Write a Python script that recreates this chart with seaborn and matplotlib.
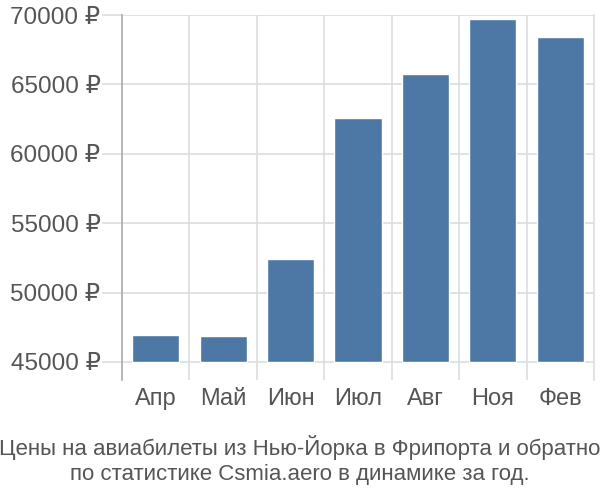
import matplotlib
matplotlib.use("Agg")
import matplotlib.pyplot as plt
import seaborn as sns
import pandas as pd

months = ["Апр", "Май", "Июн", "Июл", "Авг", "Ноя", "Фев"]
prices = [46950, 46850, 52450, 62600, 65780, 69680, 68450]
yticks = [45000, 50000, 55000, 60000, 65000, 70000]
ytick_labels = ["45000 ₽", "50000 ₽", "55000 ₽", "60000 ₽", "65000 ₽", "70000 ₽"]
title = "Цены на авиабилеты из Нью-Йорка в Фрипорта и обратно\nпо статистике Csmia.aero в динамике за год."

BASE = 45000

sns.set_theme(style="white")
plt.rcParams["font.family"] = ["Liberation Sans", "DejaVu Sans"]

df = pd.DataFrame({"month": months, "height": [p - BASE for p in prices]})

fig = plt.figure(figsize=(6, 5), dpi=100)
ax = fig.add_axes([122/600, 1-380/500, (594-122)/600, (380-15)/500])

sns.barplot(data=df, x="month", y="height", bottom=BASE, color="#4d78a6",
            saturation=1, width=0.7, ax=ax, zorder=3)

ax.set_ylim(43700, 70000)
ax.set_xlim(-0.5, len(months) - 0.5)
ax.set_yticks(yticks)
ax.set_yticklabels(ytick_labels)
ax.set_xlabel("")
ax.set_ylabel("")

grid_c = "#dddddd"
ax.yaxis.grid(True, color=grid_c, linewidth=1.2, zorder=0)
ax.set_xticks([i - 0.5 for i in range(1, len(months))], minor=True)
ax.xaxis.grid(True, which="minor", color=grid_c, linewidth=1.2, zorder=0)
ax.set_axisbelow(True)

for s in ["top", "bottom"]:
    ax.spines[s].set_visible(False)
ax.spines["left"].set_color("#aaaaaa")
ax.spines["left"].set_linewidth(1.2)
ax.spines["right"].set_color(grid_c)
ax.spines["right"].set_linewidth(1.2)

ax.tick_params(axis="y", which="major", length=14.4, width=1.2, color=grid_c,
               labelsize=17.5, labelcolor="#555555", pad=1, left=True)
ax.tick_params(axis="x", which="both", length=0, labelsize=17,
               labelcolor="#555555", pad=6)

fig.text(0.5, 1 - 460/500, title, ha="center", va="center", fontsize=16,
         color="#555555", linespacing=1.2)

fig.savefig("out.png", dpi=100)
